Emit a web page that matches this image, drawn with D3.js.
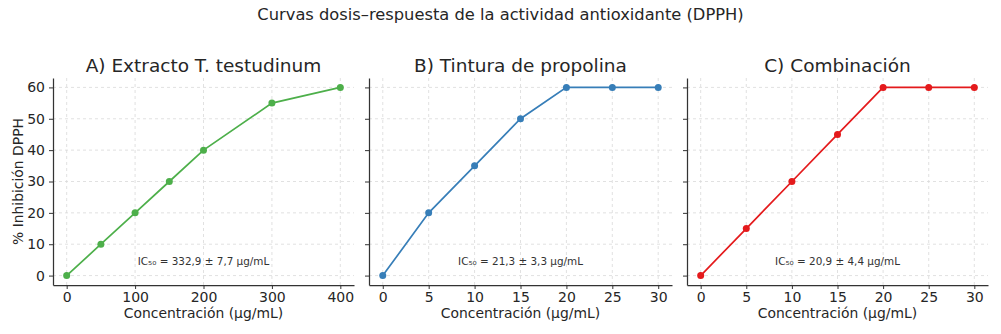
<!DOCTYPE html>
<html>
<head>
<meta charset="utf-8">
<script src="https://cdn.jsdelivr.net/npm/d3@7"></script>
<style>
  html, body { margin: 0; padding: 0; background: #fff; }
  svg { display: block; font-family: "DejaVu Sans", sans-serif; }
</style>
</head>
<body>
<svg id="chart" width="1001" height="334"></svg>
<script>
// Dose-response data (DPPH inhibition, %)
const concExtract = [0, 50, 100, 150, 200, 300, 400];
const inhibExtract = [0, 10, 20, 30, 40, 55, 60];

const concTincture = [0, 5, 10, 15, 20, 25, 30];
const inhibTincture = [0, 20, 35, 50, 60, 60, 60];

const concCombo = [0, 5, 10, 15, 20, 25, 30];
const inhibCombo = [0, 15, 30, 45, 60, 60, 60];

const panelTitles = ["A) Extracto T. testudinum", "B) Tintura de propolina", "C) Combinación"];
const panelNotes = ["IC₅₀ = 332,9 ± 7,7 µg/mL", "IC₅₀ = 21,3 ± 3,3 µg/mL", "IC₅₀ = 20,9 ± 4,4 µg/mL"];
const panelColors = ["#4daf4a", "#377eb8", "#e41a1c"];
const xTicksExtract = [0, 100, 200, 300, 400];
const xTicksTincture = [0, 5, 10, 15, 20, 25, 30];
const yTicks = [0, 10, 20, 30, 40, 50, 60];

const panels = [
  { x: concExtract, y: inhibExtract, ticks: xTicksExtract, left: 53, right: 354 },
  { x: concTincture, y: inhibTincture, ticks: xTicksTincture, left: 369, right: 672 },
  { x: concCombo, y: inhibCombo, ticks: xTicksTincture, left: 687, right: 988 }
];

const plotTop = 78, plotBottom = 285;
const svg = d3.select("#chart");
const textColor = "#262626";
const tickFont = 14;

svg.append("text")
  .attr("x", 500.5).attr("y", 14)
  .attr("text-anchor", "middle").attr("dominant-baseline", "central")
  .attr("font-size", 16.3).attr("fill", textColor)
  .text("Curvas dosis–respuesta de la actividad antioxidante (DPPH)");

// shared y range with 5% padding on both ends
const yMin = d3.min(yTicks), yMax = d3.max(inhibExtract);
const yPad = (yMax - yMin) * 0.05;
const y = d3.scaleLinear().domain([yMin - yPad, yMax + yPad]).range([plotBottom, plotTop]);

panels.forEach((p, i) => {
  const xmin = d3.min(p.x), xmax = d3.max(p.x);
  const xPad = (xmax - xmin) * 0.05;
  const x = d3.scaleLinear().domain([xmin - xPad, xmax + xPad]).range([p.left, p.right]);
  const g = svg.append("g");

  // grid
  g.append("g").selectAll("line").data(p.ticks).join("line")
    .attr("x1", d => x(d)).attr("x2", d => x(d))
    .attr("y1", plotTop).attr("y2", plotBottom)
    .attr("stroke", "#d9d9d9").attr("stroke-width", 0.8).attr("stroke-dasharray", "3,3");
  g.append("g").selectAll("line").data(yTicks).join("line")
    .attr("x1", p.left).attr("x2", p.right)
    .attr("y1", d => y(d)).attr("y2", d => y(d))
    .attr("stroke", "#d9d9d9").attr("stroke-width", 0.8).attr("stroke-dasharray", "3,3");

  // x axis
  const xAxis = g.append("g").attr("transform", `translate(0,${plotBottom})`)
    .call(d3.axisBottom(x).tickValues(p.ticks).tickSize(4).tickPadding(3).tickSizeOuter(0));
  xAxis.select(".domain").attr("stroke", "#333").attr("stroke-width", 1.25);
  xAxis.selectAll(".tick line").attr("stroke", "#333").attr("stroke-width", 1);
  xAxis.selectAll(".tick text").attr("font-size", tickFont).attr("fill", textColor)
    .attr("font-family", "DejaVu Sans, sans-serif");

  // y axis
  const yAxis = g.append("g").attr("transform", `translate(${p.left},0)`)
    .call(d3.axisLeft(y).tickValues(yTicks).tickSize(4).tickPadding(4).tickSizeOuter(0));
  yAxis.select(".domain").attr("stroke", "#333").attr("stroke-width", 1.25);
  yAxis.selectAll(".tick line").attr("stroke", "#333").attr("stroke-width", 1);
  yAxis.selectAll(".tick text").attr("font-size", tickFont).attr("fill", textColor)
    .attr("font-family", "DejaVu Sans, sans-serif");
  if (i > 0) yAxis.selectAll(".tick text").remove();

  // line + markers
  const pts = p.x.map((v, k) => [v, p.y[k]]);
  g.append("path").datum(pts)
    .attr("fill", "none").attr("stroke", panelColors[i]).attr("stroke-width", 1.7)
    .attr("d", d3.line().x(d => x(d[0])).y(d => y(d[1])));
  g.append("g").selectAll("circle").data(pts).join("circle")
    .attr("cx", d => x(d[0])).attr("cy", d => y(d[1])).attr("r", 3.5)
    .attr("fill", panelColors[i]);

  // titles and labels
  const cx = (p.left + p.right) / 2;
  g.append("text").attr("x", cx).attr("y", 65)
    .attr("text-anchor", "middle").attr("dominant-baseline", "central")
    .attr("font-size", 18.5).attr("fill", textColor).text(panelTitles[i]);
  g.append("text").attr("x", cx).attr("y", 313)
    .attr("text-anchor", "middle").attr("dominant-baseline", "central")
    .attr("font-size", 13.9).attr("fill", textColor).text("Concentración (µg/mL)");
  g.append("text").attr("x", cx).attr("y", 261)
    .attr("text-anchor", "middle").attr("dominant-baseline", "central")
    .attr("font-size", 10.4).attr("fill", "#333").text(panelNotes[i]);
});

svg.append("text")
  .attr("transform", `translate(18,${(plotTop + plotBottom) / 2}) rotate(-90)`)
  .attr("text-anchor", "middle").attr("dominant-baseline", "central")
  .attr("font-size", 13.9).attr("fill", textColor).text("% Inhibición DPPH");
</script>
</body>
</html>
